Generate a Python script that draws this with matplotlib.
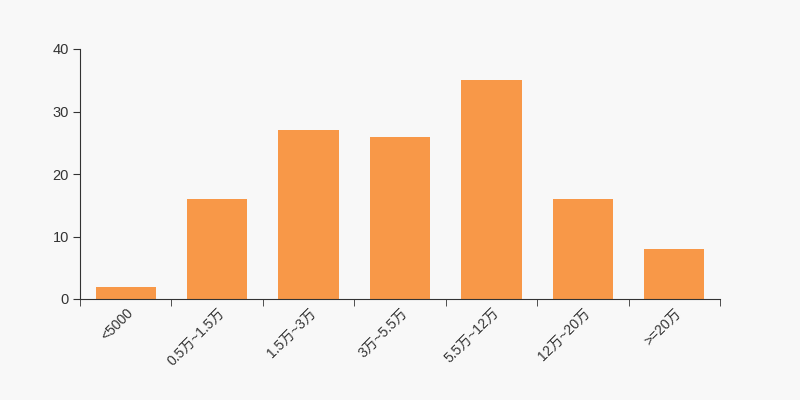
import numpy as np
import matplotlib.pyplot as plt

categories = ['<5000', '0.5万~1.5万', '1.5万~3万', '3万~5.5万', '5.5万~12万', '12万~20万', '>=20万']
values = [2, 16, 27, 26, 35, 16, 8]

plt.rcParams['font.family'] = ['Liberation Sans', 'Noto Sans CJK SC', 'DejaVu Sans']

fig = plt.figure(figsize=(8, 4), dpi=100, facecolor='#f8f8f8')
ax = fig.add_axes([0.1, 0.2525, 0.8, 0.625])
ax.set_facecolor('#f8f8f8')

x = np.arange(len(categories))
ax.bar(x, values, width=0.66, color='#f89848')

ax.set_xlim(-0.5, len(categories) - 0.5)
ax.set_ylim(0, 40)
ax.set_yticks([0, 10, 20, 30, 40])

ax.set_xticks(x)
ax.set_xticklabels(categories, rotation=45, ha='right', rotation_mode='anchor')
ax.tick_params(axis='x', which='major', length=0, pad=5, labelsize=10, labelcolor='#333333')
ax.set_xticks(np.arange(len(categories) + 1) - 0.5, minor=True)
ax.tick_params(axis='x', which='minor', length=5, color='#333333')
ax.tick_params(axis='y', length=5, color='#333333', labelsize=10.5, labelcolor='#333333', pad=3)

for s in ['top', 'right']:
    ax.spines[s].set_visible(False)
for s in ['left', 'bottom']:
    ax.spines[s].set_color('#333333')

fig.savefig('out.png', facecolor=fig.get_facecolor())
